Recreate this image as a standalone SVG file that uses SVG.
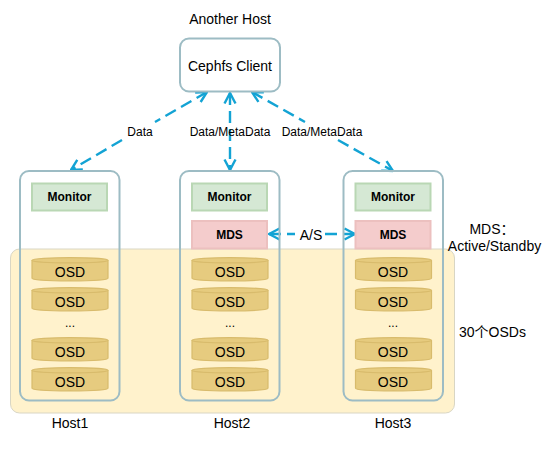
<svg xmlns="http://www.w3.org/2000/svg" width="560" height="449" viewBox="0 0 560 449">
<style>
text{font-family:"Liberation Sans","Noto Sans CJK SC",sans-serif;fill:#000;text-anchor:middle}
.t12{font-size:14px}.l{font-size:12px}.b{font-size:12px;font-weight:bold}
.host{fill:none;stroke:#9dbcc4;stroke-width:2}
.mon{fill:#d5e8d4;stroke:#b9d7b4;stroke-width:2}
.mds{fill:#f4cccc;stroke:#ecc0bf;stroke-width:2}
.osd{fill:#e6cb7f;stroke:#d8bb6c;stroke-width:1.200}
.lnk{fill:none;stroke:#13a3d4;stroke-width:2.400;stroke-dasharray:12 6}
.hd{fill:none;stroke:#13a3d4;stroke-width:2.400}
</style>
<defs>
<g id="disk"><path class="osd" d="M0 5C0 1.500 76 1.500 76 5V23C76 26.500 0 26.500 0 23Z"/><path class="osd" d="M0 5C0 8.500 76 8.500 76 5" fill="none"/></g>
<marker id="a" viewBox="0 0 14 14" refX="13" refY="7" markerWidth="14" markerHeight="14" markerUnits="userSpaceOnUse" orient="auto-start-reverse"><path class="hd" d="M2.500 1.500L13 7L2.500 12.500"/></marker>
</defs>
<g id="osd-zone"><rect x="10.500" y="249" width="444" height="164" rx="9" fill="#fff2cc" stroke="#d9d6c4" stroke-width="1"/></g>
<g id="connectors">
<path class="lnk" d="M207 92L155 122M122 140L71 170" marker-start="url(#a)" marker-end="url(#a)"/>
<path class="lnk" d="M230 93V170" marker-start="url(#a)" marker-end="url(#a)"/>
<path class="lnk" d="M252 92L305 122M338 140L393 171" marker-start="url(#a)" marker-end="url(#a)"/>
<path class="lnk" d="M269 234H295M325 234H355" marker-start="url(#a)" marker-end="url(#a)"/>
<text class="l" x="140" y="136">Data</text>
<text class="l" x="230" y="136">Data/MetaData</text>
<text class="l" x="322" y="136">Data/MetaData</text>
<text class="t12" x="311" y="240">A/S</text>
</g>
<g id="client"><rect x="180" y="38.500" width="100" height="53" rx="9" fill="#fff" stroke="#9dbcc4" stroke-width="2"/><text class="t12" x="230" y="71">Cephfs Client</text><text class="t12" x="230" y="24">Another Host</text></g>
<g id="host1"><rect class="host" x="20" y="171" width="99.500" height="229.500" rx="9"/>
<rect class="mon" x="32" y="183.500" width="75" height="27"/><text class="b" x="69.500" y="201">Monitor</text>
<use href="#disk" x="32" y="255.300"/><text class="t12" x="70" y="277">OSD</text>
<use href="#disk" x="32" y="285.300"/><text class="t12" x="70" y="307">OSD</text>
<text class="l" x="70" y="327">...</text>
<use href="#disk" x="32" y="335.300"/><text class="t12" x="70" y="356.500">OSD</text>
<use href="#disk" x="32" y="365.300"/><text class="t12" x="70" y="386.500">OSD</text>
<text class="t12" x="70" y="428">Host1</text></g>
<g id="host2"><rect class="host" x="180" y="171" width="99.500" height="229.500" rx="9"/>
<rect class="mon" x="192" y="183.500" width="75" height="27"/><text class="b" x="229.500" y="201">Monitor</text>
<rect class="mds" x="192" y="221" width="75" height="27.500"/><text class="b" x="229.500" y="239">MDS</text>
<use href="#disk" x="192" y="255.300"/><text class="t12" x="230" y="277">OSD</text>
<use href="#disk" x="192" y="285.300"/><text class="t12" x="230" y="307">OSD</text>
<text class="l" x="230" y="327">...</text>
<use href="#disk" x="192" y="335.300"/><text class="t12" x="230" y="356.500">OSD</text>
<use href="#disk" x="192" y="365.300"/><text class="t12" x="230" y="386.500">OSD</text>
<text class="t12" x="232" y="428">Host2</text></g>
<g id="host3"><rect class="host" x="343.500" y="171" width="99.500" height="229.500" rx="9"/>
<rect class="mon" x="355.500" y="183.500" width="75" height="27"/><text class="b" x="393" y="201">Monitor</text>
<rect class="mds" x="355.500" y="221" width="75" height="27.500"/><text class="b" x="393" y="239">MDS</text>
<use href="#disk" x="355.500" y="255.300"/><text class="t12" x="393" y="277">OSD</text>
<use href="#disk" x="355.500" y="285.300"/><text class="t12" x="393" y="307">OSD</text>
<text class="l" x="393" y="327">...</text>
<use href="#disk" x="355.500" y="335.300"/><text class="t12" x="393" y="356.500">OSD</text>
<use href="#disk" x="355.500" y="365.300"/><text class="t12" x="393" y="386.500">OSD</text>
<text class="t12" x="393" y="428">Host3</text></g>
<g id="notes">
<text class="t12" x="492" y="234">MDS：</text>
<text class="t12" x="494.500" y="251">Active/Standby</text>
<text class="t12" x="492.500" y="337">30个OSDs</text>
</g>
</svg>
